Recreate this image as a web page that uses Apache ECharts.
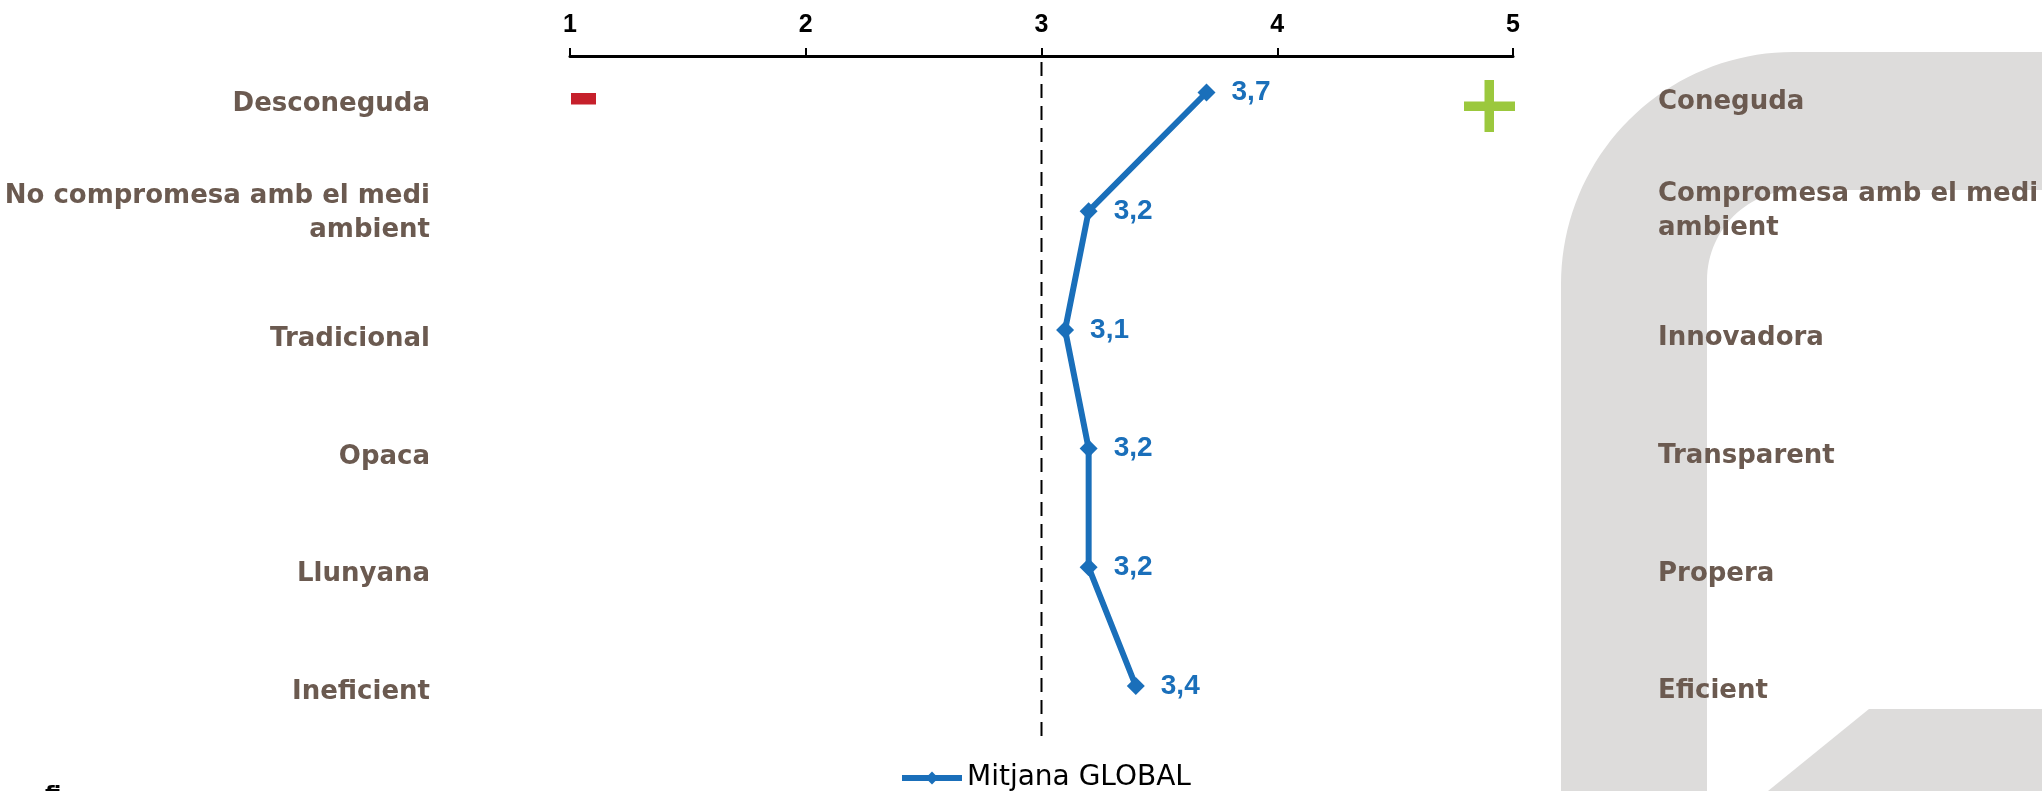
<!DOCTYPE html>
<html>
<head>
<meta charset="utf-8">
<script src="https://cdn.jsdelivr.net/npm/echarts@6/dist/echarts.min.js"></script>
<style>
  html, body { margin: 0; padding: 0; background: #ffffff; }
  #chart { width: 2042px; height: 791px; }
</style>
</head>
<body>
<div id="chart"></div>
<script>
// Semantic differential: negative pole on the left, positive pole on the right
const negativeTraits = ['Desconeguda', 'No compromesa amb el medi\nambient', 'Tradicional', 'Opaca', 'Llunyana', 'Ineficient'];
const positiveTraits = ['Coneguda', 'Compromesa amb el medi\nambient', 'Innovadora', 'Transparent', 'Propera', 'Eficient'];
const globalMean = [3.7, 3.2, 3.1, 3.2, 3.2, 3.4];
const scaleTicks = [1, 2, 3, 4, 5];
const scaleMidpoint = 3;
const seriesName = 'Mitjana GLOBAL';

const BLUE = '#1a6fba';
const BROWN = '#6b5a50';
const GREY = '#dddcdb';

// Watermark shape built from straight segments and rounded corners
function arcPoints(cx, cy, r, a0, a1, n) {
  const pts = [];
  for (let i = 0; i <= n; i++) {
    const a = (a0 + (a1 - a0) * i / n) * Math.PI / 180;
    pts.push([cx + r * Math.cos(a), cy + r * Math.sin(a)]);
  }
  return pts;
}
const ro = 232, ri = 90;
const xo = 1561, xi = 1707, yt = 52, yb = 190, W = 2042, H = 791;
const hookShape = [[xo, H]]
  .concat(arcPoints(xo + ro, yt + ro, ro, 180, 270, 40))
  .concat([[W, yt], [W, yb]])
  .concat(arcPoints(xi + ri, yb + ri, ri, 270, 180, 30))
  .concat([[xi, H]]);
const wedgeShape = [[1869, 709], [W, 709], [W, H], [1768, H]];

// Pole labels: one-line labels use style "s"; wrapped labels use "m", lifted a little
function labelRich(text) {
  const lines = text.split('\n');
  if (lines.length === 1) return '{s|' + text + '}';
  return lines.map(l => '{m|' + l + '}').join('\n');
}
const labelFont = { fontFamily: 'DejaVu Sans', fontWeight: 'bold', fontSize: 26, color: BROWN };
function poleAxis(grid, data, side, margin, lift) {
  return {
    gridIndex: grid, type: 'category', inverse: true, boundaryGap: false, data: data,
    position: side,
    axisLine: { show: false }, axisTick: { show: false }, splitLine: { show: false },
    axisLabel: {
      margin: margin, formatter: labelRich,
      rich: {
        s: Object.assign({ lineHeight: 30 }, labelFont),
        m: Object.assign({ lineHeight: 34, padding: [0, 0, lift, 0] }, labelFont)
      }
    }
  };
}

const chart = echarts.init(document.getElementById('chart'));
chart.setOption({
  backgroundColor: '#ffffff',
  animation: false,
  graphic: [
    { type: 'polygon', z: -10, shape: { points: hookShape }, style: { fill: GREY } },
    { type: 'polygon', z: -10, shape: { points: wedgeShape }, style: { fill: GREY } },
    // pole markers
    { type: 'rect', z: 10, shape: { x: 571, y: 93, width: 25, height: 11.5 }, style: { fill: '#c6202b' } },
    { type: 'rect', z: 10, shape: { x: 1464, y: 101.5, width: 51, height: 9.5 }, style: { fill: '#9bc83d' } },
    { type: 'rect', z: 10, shape: { x: 1484.5, y: 80, width: 9.5, height: 52 }, style: { fill: '#9bc83d' } },
    { type: 'text', z: 10, left: 45, top: 784, style: { text: 'fi', fill: '#000', font: 'bold 22px "DejaVu Sans"' } }
  ],
  legend: {
    data: [seriesName],
    left: 899,
    top: 764,
    padding: 0,
    itemWidth: 60,
    itemHeight: 16,
    lineStyle: { width: 6 },
    textStyle: { fontFamily: 'DejaVu Sans', fontSize: 28, color: '#000' }
  },
  grid: [
    { left: 570, right: 529, top: 92.5, bottom: 105 },   // data
    { left: 570, right: 529, top: 56, bottom: 55 },      // scale axis + midpoint
    { left: 570, right: 529, top: 104, bottom: 99 },     // negative pole labels
    { left: 570, right: 529, top: 102.7, bottom: 99.3 }  // positive pole labels
  ],
  xAxis: [
    { gridIndex: 0, type: 'value', min: 1, max: 5, show: false },
    {
      gridIndex: 1, type: 'value', position: 'top', min: 1, max: 5, interval: 1,
      axisLine: { show: true, onZero: false, lineStyle: { color: '#000', width: 3 } },
      axisTick: { show: true, inside: false, length: 8, lineStyle: { color: '#000', width: 2 } },
      splitLine: { show: false },
      axisLabel: {
        margin: 18, color: '#000', fontFamily: 'Liberation Sans', fontWeight: 'bold', fontSize: 25,
        formatter: v => scaleTicks.includes(v) ? String(v) : ''
      }
    },
    { gridIndex: 2, type: 'value', min: 1, max: 5, show: false },
    { gridIndex: 3, type: 'value', min: 1, max: 5, show: false }
  ],
  yAxis: [
    { gridIndex: 0, type: 'category', inverse: true, boundaryGap: false, data: negativeTraits, show: false },
    { gridIndex: 1, type: 'value', min: 0, max: 1, show: false },
    poleAxis(2, negativeTraits, 'left', 140, 17),
    poleAxis(3, positiveTraits, 'right', 145, 18)
  ],
  series: [
    {
      name: 'midpoint',
      type: 'line',
      xAxisIndex: 1, yAxisIndex: 1,
      data: [[scaleMidpoint, 0], [scaleMidpoint, 1]],
      symbol: 'none',
      silent: true,
      lineStyle: { color: '#000', width: 2, type: [14, 8] },
      z: 1
    },
    {
      name: seriesName,
      type: 'line',
      xAxisIndex: 0, yAxisIndex: 0,
      data: globalMean.map((v, i) => [v, negativeTraits[i]]),
      symbol: 'diamond',
      symbolSize: 18,
      lineStyle: { color: BLUE, width: 6 },
      itemStyle: { color: BLUE },
      label: {
        show: true, position: 'right', distance: 16,
        color: BLUE, fontFamily: 'Liberation Sans', fontWeight: 'bold', fontSize: 28,
        formatter: p => p.value[0].toFixed(1).replace('.', ',')
      },
      z: 5
    }
  ]
});
</script>
</body>
</html>
